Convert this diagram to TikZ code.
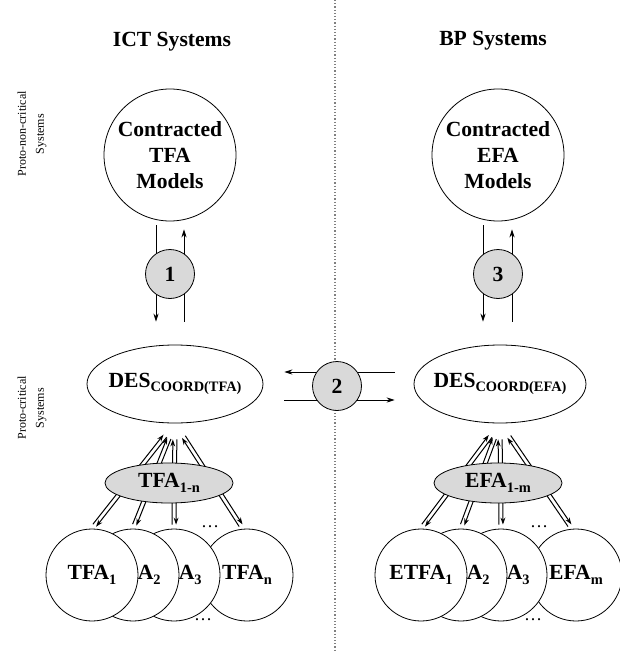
\documentclass[tikz,border=0pt]{standalone}
\usepackage{fontspec}
\setmainfont{Liberation Serif}
\usetikzlibrary{arrows.meta,calc,shapes.geometric,backgrounds}

\newcommand{\lowsub}[1]{\raisebox{-0.45ex}{\fontsize{7.2}{8}\selectfont #1}}

\begin{document}
\begin{tikzpicture}[x=0.5pt,y=-0.5pt,
    font=\fontsize{10.8}{13}\selectfont\bfseries,
    bigcirc/.style={circle,draw,fill=white,minimum size=66pt,inner sep=0pt,align=center},
    desell/.style={ellipse,draw,fill=white,minimum width=88pt,minimum height=39pt,inner xsep=-3pt,inner ysep=0pt},
    grayell/.style={ellipse,draw,fill=black!15,minimum width=64pt,minimum height=20pt,inner sep=0pt},
    numcirc/.style={circle,draw,fill=black!15,minimum size=24.5pt,inner sep=0pt},
    fcirc/.style={circle,draw,fill=white,minimum size=46pt,inner sep=0pt},
    peek/.style={anchor=west,inner sep=0pt},
    arr/.style={-{Stealth[length=4pt,width=2.6pt]},line width=0.5pt},
    parr/.style={-{Stealth[length=3.5pt,width=2.4pt]},line width=0.5pt},
    side/.style={rotate=90,align=center,font=\mdseries\fontsize{6}{9}\selectfont},
    dots/.style={font=\mdseries\fontsize{9}{10}\selectfont,inner sep=0pt}]
\useasboundingbox (0,0) rectangle (620,658);
% divider
\coordinate (divtop) at (335,0);
\coordinate (divbot) at (335,652);
\draw[gray,densely dotted,line width=0.6pt] (divtop) -- (divbot);
% headings
\node[anchor=base] (ict) at (172,47) {ICT Systems};
\node[anchor=base] (bp) at (493,46) {BP Systems};
\node[side] (pnc) at (32,134) {Proto-non-critical\\Systems};
\node[side] (pc) at (32,408) {Proto-critical\\Systems};
% upper level
\node[bigcirc] (topL) at (170,155) {Contracted\\TFA\\Models};
\node[bigcirc] (topR) at (498,155) {Contracted\\EFA\\Models};
\node[desell] (desL) at (175,384) {DES\lowsub{COORD(TFA)}};
\node[desell,minimum width=86pt] (desR) at (500,384) {DES\lowsub{COORD(EFA)}};
\node[numcirc] (g1) at (170,274) {1};
\node[numcirc] (g2) at (337,386) {2};
\node[numcirc] (g3) at (498,274) {3};
% lower level, ICT
\node[grayell] (setL) at (169,483) {TFA\lowsub{1-n}};
\node[fcirc] (tn) at (247,575) {TFA\lowsub{n}};
\node[fcirc] (t3) at (174,575) {};
\node[fcirc] (t2) at (133,575) {};
\node[fcirc] (t1) at (92,575) {TFA\lowsub{1}};
\node[peek] (t2lbl) at ($(t1.east)+(-1,0)$) {A\lowsub{2}};
\node[peek] (t3lbl) at ($(t2.east)+(-1,0)$) {A\lowsub{3}};
% lower level, BP
\node[grayell] (setR) at (498,483) {EFA\lowsub{1-m}};
\node[fcirc] (em) at (576,575) {EFA\lowsub{m}};
\node[fcirc] (e3) at (501,575) {};
\node[fcirc] (e2) at (461,575) {};
\node[fcirc] (e1) at (421,575) {ETFA\lowsub{1}};
\node[peek] (e2lbl) at ($(e1.east)+(-1,0)$) {A\lowsub{2}};
\node[peek] (e3lbl) at ($(e2.east)+(-1,0)$) {A\lowsub{3}};
\node[dots] (dL1) at (210,527) {…};
\node[dots] (dL2) at (203,620) {…};
\node[dots] (dR1) at (539,527) {…};
\node[dots] (dR2) at (533,620) {…};

\begin{pgfonlayer}{background}
% contraction arrows
\draw[arr,shorten <=2pt,shorten >=11.5pt] ($(topL.south)+(-14,0)$) -- ($(topL.south |- desL.north)+(-14,0)$);
\draw[arr,shorten <=11.5pt,shorten >=4pt] ($(topL.south |- desL.north)+(14,0)$) -- ($(topL.south)+(14,0)$);
\draw[arr,shorten <=2pt,shorten >=11.5pt] ($(topR.south)+(-15,0)$) -- ($(topR.south |- desR.north)+(-15,0)$);
\draw[arr,shorten <=11.5pt,shorten >=4pt] ($(topR.south |- desR.north)+(14,0)$) -- ($(topR.south)+(14,0)$);
% coordination arrows
\draw[arr,shorten <=9.5pt,shorten >=10.5pt] ($(desR.west)+(0,-12)$) -- ($(desL.east)+(0,-12)$);
\draw[arr,shorten <=10.5pt,shorten >=9.5pt] ($(desL.east)+(0,16)$) -- ($(desR.west)+(0,16)$);
% component links
\foreach \a in {t1.north,t2.north,t3.north,tn.95}{
  \draw[parr,shorten <=2pt,shorten >=8pt] ($(\a)!1pt!90:(desL.south)$) -- ($(desL.south)!1pt!-90:(\a)$);
  \draw[parr,shorten <=8pt,shorten >=2pt] ($(desL.south)!1pt!90:(\a)$) -- ($(\a)!1pt!-90:(desL.south)$);
}
\foreach \a in {e1.north,e2.north,e3.north,em.95}{
  \draw[parr,shorten <=2pt,shorten >=8pt] ($(\a)!1pt!90:(desR.south)$) -- ($(desR.south)!1pt!-90:(\a)$);
  \draw[parr,shorten <=8pt,shorten >=2pt] ($(desR.south)!1pt!90:(\a)$) -- ($(\a)!1pt!-90:(desR.south)$);
}
\end{pgfonlayer}
\end{tikzpicture}
\end{document}
